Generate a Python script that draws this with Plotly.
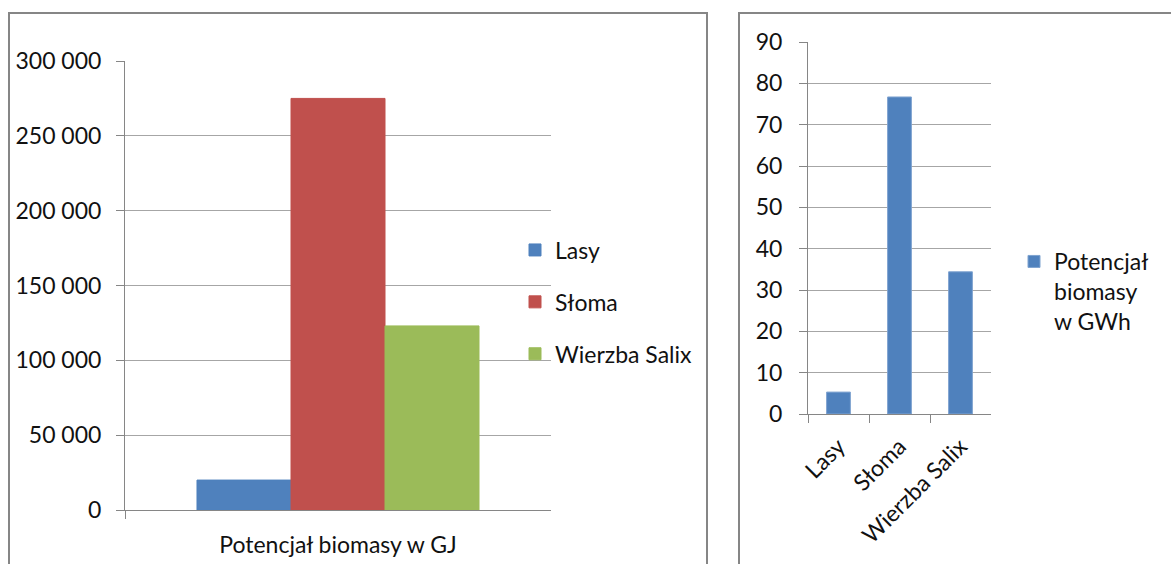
import plotly.graph_objects as go

# ---- data ----
gj_category = ["Potencjał biomasy w GJ"]
series_names = ["Lasy", "Słoma", "Wierzba Salix"]
gj_lasy = [20000]
gj_sloma = [275000]
gj_wierzba = [123000]

gwh_categories = ["Lasy", "Słoma", "Wierzba Salix"]
gwh_values = [5.3, 76.7, 34.4]
gwh_name = "Potencjał<br>biomasy<br>w GWh"

gj_ticks = [0, 50000, 100000, 150000, 200000, 250000, 300000]
gwh_ticks = [0, 10, 20, 30, 40, 50, 60, 70, 80, 90]

# ---- style ----
W, H = 1171, 564
colors = ["#4F81BD", "#C0504D", "#9BBB59"]
FONT = "Lato"
FS = 23
grid_c = "#A6A6A6"
axis_c = "#868686"
txt_c = "#111111"

def px_x(x):
    return x / W

def px_y(y):
    return 1 - y / H

fig = go.Figure()
for name, vals, col in zip(series_names, [gj_lasy, gj_sloma, gj_wierzba], colors):
    fig.add_trace(go.Bar(
        x=gj_category, y=vals, name=name, marker_color=col,
        marker_line=dict(width=1, color=col),
        xaxis="x", yaxis="y", legend="legend", legendgroup=name,
    ))

fig.add_trace(go.Bar(
    x=gwh_categories, y=gwh_values, name=gwh_name, marker_color=colors[0],
    marker_line=dict(width=1, color="#7FA3D0"),
    xaxis="x2", yaxis="y2", legend="legend2", width=0.39,
))

fig.update_layout(
    width=W, height=H,
    margin=dict(l=0, r=0, t=0, b=0),
    paper_bgcolor="white", plot_bgcolor="white",
    font=dict(family=FONT, size=FS, color=txt_c),
    separators=", ",
    barmode="group", bargap=0.338, bargroupgap=0,
    xaxis=dict(
        domain=[px_x(125), px_x(551)], anchor="y",
        showline=True, linecolor=axis_c, linewidth=1,
        ticks="outside", ticklen=8, tickcolor=axis_c, tickson="boundaries",
        ticklabelstandoff=14, showgrid=False, automargin=False,
    ),
    yaxis=dict(
        domain=[px_y(510), px_y(61)], anchor="x",
        range=[0, 300000], tickvals=gj_ticks, tickformat=",d",
        showline=True, linecolor=axis_c, linewidth=1,
        ticks="outside", ticklen=8, tickcolor=axis_c,
        showgrid=True, gridcolor=grid_c, gridwidth=1, zeroline=False,
        ticklabelstandoff=10, automargin=False,
    ),
    xaxis2=dict(
        domain=[px_x(808), px_x(991)], anchor="y2",
        showline=True, linecolor=axis_c, linewidth=1,
        ticks="outside", ticklen=8, tickcolor=axis_c, tickson="boundaries",
        tickangle=-45, showgrid=False, automargin=False,
        ticklabelstandoff=9,
    ),
    yaxis2=dict(
        domain=[px_y(414), px_y(42)], anchor="x2",
        range=[0, 90], tickvals=gwh_ticks,
        showline=True, linecolor=axis_c, linewidth=1,
        ticks="outside", ticklen=8, tickcolor=axis_c,
        showgrid=True, gridcolor=grid_c, gridwidth=1, zeroline=False,
        ticklabelstandoff=12, automargin=False,
    ),
    legend=dict(
        x=px_x(515), y=px_y(302), xanchor="left", yanchor="middle",
        bgcolor="rgba(0,0,0,0)", font=dict(size=FS),
        tracegroupgap=19, itemclick=False,
    ),
    legend2=dict(
        x=px_x(1014), y=px_y(240), xanchor="left", yanchor="top",
        bgcolor="rgba(0,0,0,0)", font=dict(size=FS), valign="top",
    ),
    shapes=[
        dict(type="rect", xref="paper", yref="paper",
             x0=px_x(9), x1=px_x(707), y0=-0.05, y1=px_y(13),
             line=dict(color="#868686", width=2)),
        dict(type="rect", xref="paper", yref="paper",
             x0=px_x(739), x1=1.05, y0=-0.05, y1=px_y(13),
             line=dict(color="#868686", width=2)),
    ],
)

fig.write_html(
    "out.html",
    config={"displayModeBar": False},
    post_script="document.body.style.margin='0';document.body.style.overflow='hidden';",
)
